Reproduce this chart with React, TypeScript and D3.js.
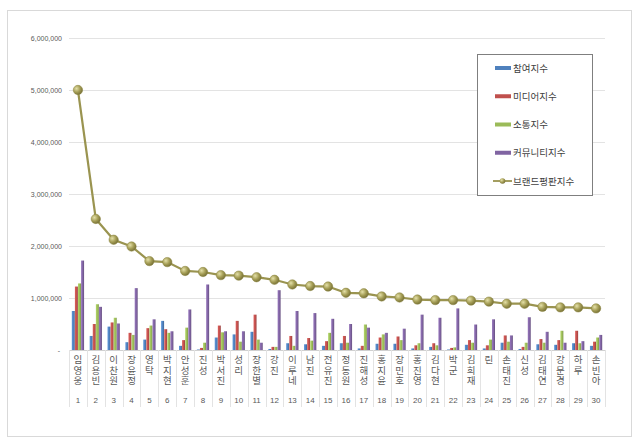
import * as d3 from "d3";
import { useEffect, useRef } from "react";

const names = [
  "임영웅", "김용빈", "이찬원", "장윤정", "영탁", "박지현", "안성훈", "진성", "박서진", "성리",
  "장한별", "강진", "이루네", "남진", "전유진", "정동원", "진해성", "홍지윤", "장민호", "홍진영",
  "김다현", "박군", "김희재", "린", "손태진", "신성", "김태연", "강문경", "하루", "손빈아",
];

// values in thousands
const participation = [750, 270, 450, 150, 200, 560, 80, 10, 240, 300, 350, 20, 130, 110, 80, 130, 30, 120, 120, 30, 60, 10, 100, 30, 140, 20, 110, 100, 130, 80];
const media = [1220, 500, 530, 330, 420, 400, 190, 40, 470, 560, 680, 60, 270, 230, 170, 270, 80, 240, 260, 90, 130, 40, 190, 90, 280, 60, 210, 190, 370, 160];
const communication = [1280, 880, 620, 290, 470, 330, 430, 140, 340, 160, 200, 60, 80, 180, 330, 140, 490, 300, 190, 130, 90, 50, 140, 200, 160, 140, 140, 370, 130, 240];
const community = [1720, 830, 510, 1190, 590, 360, 780, 1260, 360, 360, 140, 1150, 750, 710, 600, 500, 430, 330, 410, 680, 620, 800, 490, 590, 280, 630, 350, 140, 170, 290];
const brand = [5000, 2520, 2120, 1990, 1710, 1690, 1520, 1500, 1440, 1430, 1400, 1350, 1260, 1230, 1220, 1100, 1090, 1030, 1010, 970, 960, 960, 950, 930, 890, 890, 830, 820, 820, 800];

const seriesNames = ["참여지수", "미디어지수", "소통지수", "커뮤니티지수"];
const seriesColors = ["#4f81bd", "#c0504d", "#9bbb59", "#8064a2"];
const lineName = "브랜드평판지수";
const yTicks = [0, 1000, 2000, 3000, 4000, 5000, 6000];

const W = 640;
const H = 444;
const KR = "'Noto Sans CJK KR', 'Noto Sans', sans-serif";

export default function App() {
  const svgRef = useRef<SVGSVGElement | null>(null);

  useEffect(() => {
    const svg = d3.select(svgRef.current);
    svg.selectAll("*").remove();

    const margin = { top: 38, left: 69, right: 605, bottom: 350 };
    const series = [participation, media, communication, community];

    const x = d3.scaleBand<number>()
      .domain(d3.range(names.length))
      .range([margin.left, margin.right]);
    const inner = d3.scaleBand<number>()
      .domain(d3.range(4))
      .range([2.8, x.bandwidth() - 2.8])
      .paddingInner(0.05);
    const y = d3.scaleLinear().domain([0, 6000]).range([margin.bottom, margin.top]);

    // gradients for bars and markers
    const defs = svg.append("defs");
    seriesColors.forEach((c, i) => {
      const g = defs.append("linearGradient").attr("id", `bar${i}`)
        .attr("x1", 0).attr("x2", 1).attr("y1", 0).attr("y2", 0);
      g.append("stop").attr("offset", "0%").attr("stop-color", d3.color(c)!.brighter(0.4).formatHex());
      g.append("stop").attr("offset", "60%").attr("stop-color", c);
      g.append("stop").attr("offset", "100%").attr("stop-color", d3.color(c)!.darker(0.7).formatHex());
    });
    const rg = defs.append("radialGradient").attr("id", "dot")
      .attr("cx", "35%").attr("cy", "35%").attr("r", "70%");
    rg.append("stop").attr("offset", "0%").attr("stop-color", "#e4e0a8");
    rg.append("stop").attr("offset", "55%").attr("stop-color", "#a49d55");
    rg.append("stop").attr("offset", "100%").attr("stop-color", "#746e35");

    svg.append("rect").attr("width", W).attr("height", H).attr("fill", "#fff");
    // outer frame
    svg.append("rect")
      .attr("x", 7.5).attr("y", 10.5).attr("width", 624).attr("height", 426)
      .attr("fill", "none").attr("stroke", "#d9d9d9");

    // gridlines + y labels
    const grid = svg.append("g");
    grid.selectAll("line").data(yTicks.slice(1)).join("line")
      .attr("x1", margin.left).attr("x2", margin.right)
      .attr("y1", (d) => Math.round(y(d)) + 0.5).attr("y2", (d) => Math.round(y(d)) + 0.5)
      .attr("stroke", "#e3e3e3");
    grid.selectAll("text").data(yTicks).join("text")
      .attr("x", (d) => (d === 0 ? 60 : 62))
      .attr("y", (d) => y(d) + 2.5)
      .attr("text-anchor", "end")
      .attr("font-family", "'Liberation Sans', Arial, sans-serif")
      .attr("font-size", 7)
      .attr("fill", "#595959")
      .text((d) => (d === 0 ? "-" : d3.format(",")(d * 1000)));

    // bars
    series.forEach((vals, si) => {
      svg.append("g").selectAll("rect").data(vals).join("rect")
        .attr("x", (_, i) => x(i)! + inner(si)!)
        .attr("y", (d) => y(d))
        .attr("width", inner.bandwidth())
        .attr("height", (d) => y(0) - y(d))
        .attr("fill", `url(#bar${si})`);
    });

    // category axis with label boxes
    const ax = svg.append("g");
    ax.append("line")
      .attr("x1", margin.left).attr("x2", margin.right)
      .attr("y1", margin.bottom + 0.5).attr("y2", margin.bottom + 0.5)
      .attr("stroke", "#d0d0d0");
    ax.selectAll("line.sep").data(d3.range(names.length + 1)).join("line")
      .attr("class", "sep")
      .attr("x1", (i) => Math.round(margin.left + i * x.step()) + 0.5)
      .attr("x2", (i) => Math.round(margin.left + i * x.step()) + 0.5)
      .attr("y1", margin.bottom).attr("y2", 407)
      .attr("stroke", "#e3e3e3");
    const lab = ax.selectAll("g.lab").data(names).join("g")
      .attr("class", "lab")
      .attr("transform", (_, i) => `translate(${x(i)! + x.bandwidth() / 2},0)`);
    // names stacked top to bottom, one glyph per row
    lab.append("text")
      .attr("x", 0).attr("y", 355)
      .attr("font-family", KR).attr("font-size", 9.5)
      .attr("letter-spacing", 0.8)
      .attr("fill", "#595959")
      .style("writing-mode", "vertical-rl")
      .style("text-orientation", "upright")
      .text((d) => d);
    lab.append("text")
      .attr("x", 0).attr("y", 403)
      .attr("text-anchor", "middle")
      .attr("font-family", "'Liberation Sans', Arial, sans-serif")
      .attr("font-size", 8)
      .attr("fill", "#595959")
      .text((_, i) => i + 1);

    // brand line
    const cx = (i: number) => x(i)! + x.bandwidth() / 2;
    svg.append("path")
      .datum(brand)
      .attr("d", d3.line<number>().x((_, i) => cx(i)).y((d) => y(d)))
      .attr("fill", "none").attr("stroke", "#9a9450").attr("stroke-width", 2.2);
    svg.append("g").selectAll("circle").data(brand).join("circle")
      .attr("cx", (_, i) => cx(i)).attr("cy", (d) => y(d))
      .attr("r", 4.7)
      .attr("fill", "url(#dot)").attr("stroke", "#8a843f").attr("stroke-width", 0.5);

    // legend
    const lg = svg.append("g");
    lg.append("rect")
      .attr("x", 477.5).attr("y", 54.5).attr("width", 115).attr("height", 141)
      .attr("fill", "#fff").attr("stroke", "#7f7f7f");
    const rows = [...seriesNames, lineName];
    const ly = d3.scalePoint<number>().domain(d3.range(rows.length)).range([68, 181]);
    rows.forEach((r, i) => {
      const yy = ly(i)!;
      if (i < 4) {
        lg.append("rect").attr("x", 495).attr("y", yy - 2).attr("width", 16).attr("height", 4)
          .attr("fill", seriesColors[i]);
      } else {
        lg.append("line").attr("x1", 493).attr("x2", 512).attr("y1", yy).attr("y2", yy)
          .attr("stroke", "#9a9450").attr("stroke-width", 1.8);
        lg.append("circle").attr("cx", 502.5).attr("cy", yy).attr("r", 2.8).attr("fill", "url(#dot)");
      }
      lg.append("text")
        .attr("x", 513).attr("y", yy + 3.5)
        .attr("font-family", KR).attr("font-size", 9.5)
        .attr("fill", "#404040")
        .text(r);
    });
  }, []);

  return (
    <div style={{ position: "absolute", left: 0, top: 0 }}>
      <svg ref={svgRef} width={W} height={H} style={{ display: "block" }}></svg>
    </div>
  );
}
